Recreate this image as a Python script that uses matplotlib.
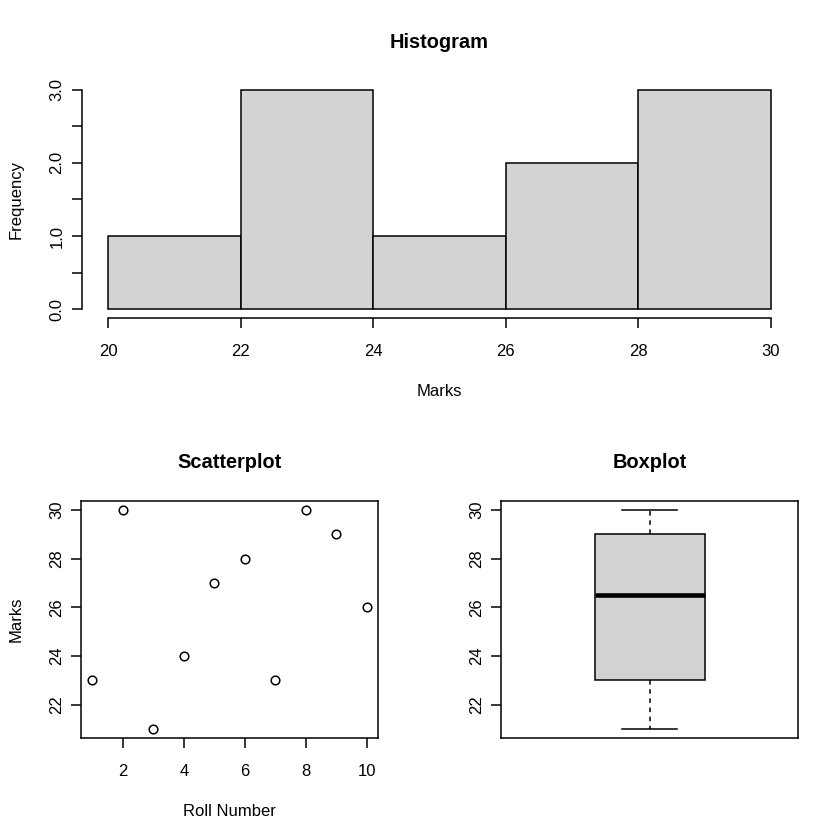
import numpy as np
import matplotlib
matplotlib.use("Agg")
import matplotlib.pyplot as plt

# ---- data ----
roll_number = [1, 2, 3, 4, 5, 6, 7, 8, 9, 10]
marks = [23, 30, 21, 24, 27, 28, 23, 30, 29, 26]
hist_breaks = [20, 22, 24, 26, 28, 30]
hist_yticks = [0, 0.5, 1, 1.5, 2, 2.5, 3]
hist_ylabels = ["0.0", "", "1.0", "", "2.0", "", "3.0"]
hist_xticks = [20, 22, 24, 26, 28, 30]
roll_ticks = [2, 4, 6, 8, 10]
marks_ticks = [22, 24, 26, 28, 30]

plt.rcParams["font.family"] = ["Liberation Sans", "DejaVu Sans"]

W = 840.0
fig = plt.figure(figsize=(8.4, 8.4), dpi=100)


def rect(x0, y0, x1, y1):
    return [x0 / W, 1 - y1 / W, (x1 - x0) / W, (y1 - y0) / W]


FS = 12
TFS = 14.4
LW = 1.1
TL = 7.2
FILL = "#d3d3d3"


def ext(lo, hi):
    p = 0.04 * (hi - lo)
    return lo - p, hi + p


def style_ticks(ax):
    ax.tick_params(axis="both", direction="out", length=TL, width=LW,
                   labelsize=FS, colors="black")
    ax.tick_params(axis="x", pad=11.8)
    ax.tick_params(axis="y", pad=5)
    for lab in ax.get_yticklabels():
        lab.set_rotation(90)
        lab.set_va("center")


def labels(ax, title, xlabel, ylabel, x0, y0, x1, y1):
    ax.set_title(title, fontsize=TFS, fontweight="bold", pad=33 * 0.72)
    if xlabel:
        ax.set_xlabel(xlabel, fontsize=FS, va="baseline")
        ax.xaxis.set_label_coords((x0 + x1) / 2 / W, 1 - (y1 + 78) / W,
                                  transform=fig.transFigure)
    if ylabel:
        ax.set_ylabel(ylabel, fontsize=FS, va="baseline")
        ax.yaxis.set_label_coords(20.7 / W, 1 - ((y0 + y1) / 2) / W,
                                  transform=fig.transFigure)


# ---- Histogram ----
H = (81.5, 81, 797.5, 318)
ax1 = fig.add_axes(rect(*H))
edges = np.array(hist_breaks, dtype=float)
vals = np.array(marks, dtype=float)
idx = np.searchsorted(edges, vals, side="left") - 1   # right-closed bins
idx[idx < 0] = 0
counts = np.bincount(idx, minlength=len(edges) - 1)
ax1.bar(edges[:-1], counts, width=np.diff(edges), align="edge",
        color=FILL, edgecolor="black", linewidth=LW)
ax1.set_xlim(*ext(edges[0], edges[-1]))
ax1.set_ylim(*ext(0, counts.max()))
ax1.set_xticks(hist_xticks)
ax1.set_yticks(hist_yticks)
ax1.set_yticklabels(hist_ylabels)
for s in ("top", "right"):
    ax1.spines[s].set_visible(False)
ax1.spines["left"].set_bounds(hist_yticks[0], hist_yticks[-1])
ax1.spines["bottom"].set_bounds(hist_xticks[0], hist_xticks[-1])
for s in ("left", "bottom"):
    ax1.spines[s].set_linewidth(LW)
style_ticks(ax1)
labels(ax1, "Histogram", "Marks", "Frequency", *H)

# ---- Scatterplot ----
S = (81.3, 501.3, 378, 737.7)
ax2 = fig.add_axes(rect(*S))
ax2.plot(roll_number, marks, linestyle="none", marker="o", markersize=6.2,
         markerfacecolor="none", markeredgecolor="black", markeredgewidth=LW)
ax2.set_xlim(*ext(min(roll_number), max(roll_number)))
ax2.set_ylim(*ext(min(marks), max(marks)))
ax2.set_xticks(roll_ticks)
ax2.set_yticks(marks_ticks)
for s in ax2.spines.values():
    s.set_linewidth(LW)
style_ticks(ax2)
labels(ax2, "Scatterplot", "Roll Number", "Marks", *S)

# ---- Boxplot ----
B = (501.3, 501.3, 798, 737.7)
ax3 = fig.add_axes(rect(*B))
xs = np.sort(np.array(marks, dtype=float))
n = len(xs)
n4 = np.floor((n + 3) / 2) / 2
d = np.array([1, n4, (n + 1) / 2, n + 1 - n4, n]) - 1
five = 0.5 * (xs[np.floor(d).astype(int)] + xs[np.ceil(d).astype(int)])
stats = [{"whislo": five[0], "q1": five[1], "med": five[2],
          "q3": five[3], "whishi": five[4], "fliers": []}]
ax3.bxp(stats, positions=[1], widths=0.4, capwidths=0.2, patch_artist=True,
        showfliers=False,
        boxprops=dict(facecolor=FILL, edgecolor="black", linewidth=LW),
        medianprops=dict(color="black", linewidth=3 * LW, solid_capstyle="butt"),
        whiskerprops=dict(color="black", linewidth=LW, linestyle=(0, (3, 3))),
        capprops=dict(color="black", linewidth=LW))
ax3.set_xlim(*ext(0.5, 1.5))
ax3.set_ylim(*ext(min(marks), max(marks)))
ax3.set_xticks([])
ax3.set_yticks(marks_ticks)
for s in ax3.spines.values():
    s.set_linewidth(LW)
style_ticks(ax3)
labels(ax3, "Boxplot", None, None, *B)

fig.savefig("out.png", dpi=100, facecolor="white")
